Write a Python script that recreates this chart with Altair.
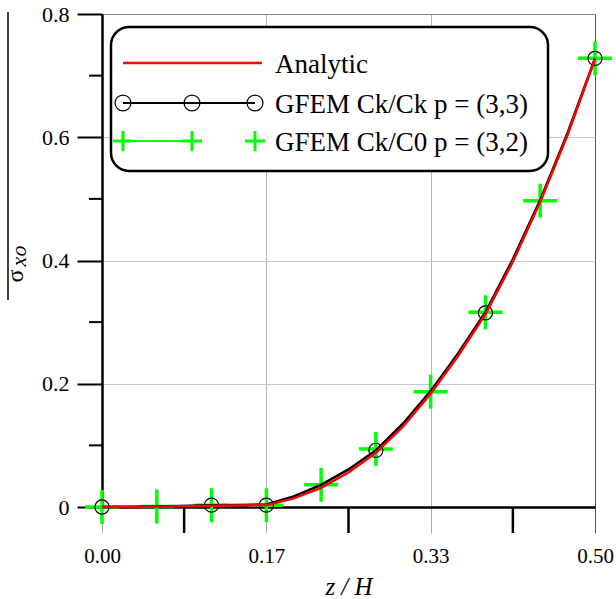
import altair as alt
import pandas as pd

# ---- data ----
z_cross = [0.0, 0.0556, 0.1111, 0.1667, 0.2222, 0.2778, 0.3333, 0.3889, 0.4444, 0.5]
s_cross = [0.0, 0.001, 0.003, 0.003, 0.036, 0.094, 0.187, 0.316, 0.497, 0.728]

z_circ = [0.0, 0.1111, 0.1667, 0.2778, 0.3889, 0.5]
s_circ = [0.0, 0.003, 0.003, 0.092, 0.315, 0.728]

z_black = [0.0, 0.0556, 0.1111, 0.1667, 0.1944, 0.2222, 0.25, 0.2778, 0.3056,
           0.3333, 0.3611, 0.3889, 0.4167, 0.4444, 0.4722, 0.5]
s_black = [0.0, 0.001, 0.003, 0.004, 0.017, 0.036, 0.061, 0.092, 0.136,
           0.188, 0.249, 0.316, 0.402, 0.498, 0.607, 0.728]

z_red = [0.0, 0.0556, 0.1111, 0.1667, 0.1944, 0.2222, 0.25, 0.2778, 0.3056,
         0.3333, 0.3611, 0.3889, 0.4167, 0.4444, 0.4722, 0.5]
s_red = [0.0, 0.0005, 0.002, 0.003, 0.014, 0.031, 0.056, 0.088, 0.131,
         0.184, 0.245, 0.313, 0.398, 0.495, 0.604, 0.727]

x_ticks = [0.0, 0.1667, 0.3333, 0.5]
x_minor = [0.0833, 0.25, 0.4167]
y_ticks = [0.0, 0.2, 0.4, 0.6, 0.8]
y_minor = [0.1, 0.3, 0.5, 0.7]

legend_labels = ["Analytic", "GFEM Ck/Ck p = (3,3)", "GFEM Ck/C0 p = (3,2)"]

FONT = "'Liberation Serif', 'DejaVu Serif', serif"
GREEN = "#00ff00"
CROSS = "M-1,0H1M0,-1V1"

df_cross = pd.DataFrame({"z": z_cross, "s": s_cross})
df_circ = pd.DataFrame({"z": z_circ, "s": s_circ})
df_black = pd.DataFrame({"z": z_black, "s": s_black})
df_red = pd.DataFrame({"z": z_red, "s": s_red})
df_xminor = pd.DataFrame({"z": x_minor})
df_yminor = pd.DataFrame({"s": y_minor})
one = pd.DataFrame({"a": [0]})

xscale = alt.Scale(domain=[0, 0.5], nice=False, zero=False)
yscale = alt.Scale(domain=[0, 0.8], nice=False)

xaxis = alt.Axis(
    values=x_ticks, format=".2f", labelFont=FONT, labelFontSize=21, labelColor="black",
    labelPadding=12, labelFlush=False, labelOverlap=False, tickSize=26, tickWidth=1,
    tickColor={"condition": {"test": "datum.value > 0.49", "value": "#555555"}, "value": "#aaaaaa"},
    domainColor="black", domainWidth=2.5,
    grid=True, gridWidth=1,
    gridColor={"condition": {"test": "datum.value > 0.49", "value": "#555555"}, "value": "#b4b4b4"},
    title="z / H", titleFont=FONT, titleFontSize=25, titleFontStyle="italic",
    titleFontWeight="normal", titleColor="black", titlePadding=8,
)
yaxis = alt.Axis(
    values=y_ticks, format=".1~f", labelFont=FONT, labelFontSize=22, labelColor="black",
    labelPadding=8, labelFlush=False, labelOverlap=False, tickSize=25, tickWidth=2, tickColor="black",
    domainColor="black", domainWidth=2.5,
    grid=True, gridWidth=1,
    gridColor={"condition": {"test": "datum.value > 0.79", "value": "#8a8a8a"}, "value": "#c8c8c8"},
    title=None,
)

X = alt.X("z:Q", scale=xscale, axis=xaxis)
Y = alt.Y("s:Q", scale=yscale, axis=yaxis)

crosses = alt.Chart(df_cross).mark_point(
    shape=CROSS, size=1156, color=GREEN, strokeWidth=3.5, filled=False, opacity=1
).encode(x=X, y=Y)

black_line = alt.Chart(df_black).mark_line(color="black", strokeWidth=2.5).encode(x=X, y=Y)

circles = alt.Chart(df_circ).mark_point(
    shape="circle", size=200, color="black", strokeWidth=1.2, filled=False, opacity=1
).encode(x=X, y=Y)

red_line = alt.Chart(df_red).mark_line(color="#ff0000", strokeWidth=2.5).encode(x=X, y=Y)

yminor = alt.Chart(df_yminor).mark_rule(color="black", strokeWidth=2).encode(
    y=Y, x=alt.value(-13), x2=alt.value(0))
xminor = alt.Chart(df_xminor).mark_rule(color="black", strokeWidth=2.5).encode(
    x=X, y=alt.value(493), y2=alt.value(519))

# ---- y title: overline + sigma_xo ----
overline = alt.Chart(one).mark_rule(color="black", strokeWidth=1.5).encode(
    x=alt.value(-94), y=alt.value(-2), y2=alt.value(286))
sigma = alt.Chart(one).mark_text(text="σ", font=FONT, fontSize=24, angle=270,
                                 align="center", baseline="middle", color="black").encode(
    x=alt.value(-86), y=alt.value(262))
sub = alt.Chart(one).mark_text(text="xo", font=FONT, fontSize=22, fontStyle="italic", angle=270,
                               align="center", baseline="middle", color="black").encode(
    x=alt.value(-83), y=alt.value(242))

# ---- legend (drawn) ----
legend_layers = []
legend_layers.append(alt.Chart(one).mark_rect(
    fill="white", stroke="black", strokeWidth=2.5, cornerRadius=18).encode(
    x=alt.value(9), x2=alt.value(446), y=alt.value(13), y2=alt.value(157)))
row_y = [49, 89, 127]
sym_x = [21, 90, 153]
# Analytic
legend_layers.append(alt.Chart(one).mark_rule(color="#ff0000", strokeWidth=2.5).encode(
    x=alt.value(21), x2=alt.value(160), y=alt.value(row_y[0])))
# Ck/Ck
legend_layers.append(alt.Chart(one).mark_rule(color="black", strokeWidth=2).encode(
    x=alt.value(21), x2=alt.value(153), y=alt.value(row_y[1])))
for sx in sym_x:
    legend_layers.append(alt.Chart(one).mark_point(
        shape="circle", size=254, color="black", strokeWidth=1.2, filled=False, opacity=1).encode(
        x=alt.value(sx), y=alt.value(row_y[1])))
# Ck/C0
legend_layers.append(alt.Chart(one).mark_rule(color=GREEN, strokeWidth=2).encode(
    x=alt.value(21), x2=alt.value(90), y=alt.value(row_y[2])))
for sx in sym_x:
    legend_layers.append(alt.Chart(one).mark_point(
        shape=CROSS, size=400, color=GREEN, strokeWidth=3, filled=False, opacity=1).encode(
        x=alt.value(sx), y=alt.value(row_y[2])))
for i, lab in enumerate(legend_labels):
    legend_layers.append(alt.Chart(one).mark_text(
        text=lab, font=FONT, fontSize=27, align="left", baseline="alphabetic", color="black").encode(
        x=alt.value(173), y=alt.value(row_y[i] + 10)))

chart = alt.layer(
    crosses, black_line, circles, red_line, yminor, xminor,
    overline, sigma, sub, *legend_layers
).properties(
    width=493, height=493,
    autosize=alt.AutoSizeParams(type="none"),
    padding={"left": 102, "top": 14, "right": 21, "bottom": 92},
).configure_view(stroke=None).configure(background="white")

chart.save("out.html", embed_options={"renderer": "svg", "actions": False})
